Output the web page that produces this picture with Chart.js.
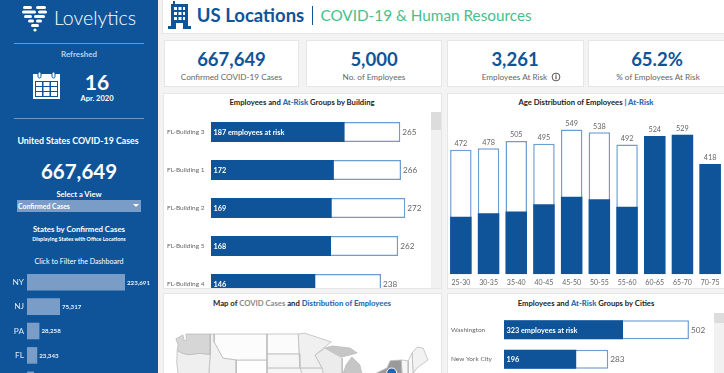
<!DOCTYPE html>
<html lang="en">
<head>
<meta charset="UTF-8" />
<title>US Locations - COVID-19 & Human Resources</title>
<script src="https://cdn.jsdelivr.net/npm/chart.js"></script>
<style>
  html, body { margin: 0; width: 724px; height: 373px; overflow: hidden; background: #f3f3f3; font-family: Lato, sans-serif; }
  body { filter: blur(0.3px); }
  .box { position: absolute; background: #fff; border: 1px solid #e6e6e6; box-sizing: border-box; }
  .t { position: absolute; white-space: nowrap; transform: translate(-50%, -50%); line-height: 1; }
  .clip { position: absolute; overflow: hidden; }
  .clip canvas, canvas { display: block; }
  #side { position: absolute; left: 0; top: 0; width: 158px; height: 373px; background: #0f5499; color: #fff; }
  #side hr { position: absolute; left: 14px; width: 130px; margin: 0; border: 0; height: 1px; background: #6b96c6; }
  .num { color: #0f5499; font-weight: 700; font-size: 18.5px; }
  .lab { color: #666; font-size: 8.2px; }
  .title { color: #222; font-weight: 700; font-size: 7.7px; }
  .title b { color: #2a6db0; }
  .title i { color: #8a8a8a; font-style: normal; }
</style>
</head>
<body>
<div id="side">
  <svg style="position:absolute;left:21px;top:4px" width="28" height="28" fill="#fff">
    <rect x="2" y="2" width="9" height="3" rx="1.5"/><rect x="15" y="2" width="10" height="3" rx="1.5"/>
    <rect x="1" y="6.5" width="14" height="3" rx="1.5"/><rect x="17" y="6.5" width="9" height="3" rx="1.5"/>
    <rect x="3" y="11" width="8" height="3" rx="1.5"/><rect x="13" y="11" width="11" height="3" rx="1.5"/>
    <rect x="7" y="15.5" width="6" height="3" rx="1.5"/><rect x="15" y="15.5" width="6" height="3" rx="1.5"/>
    <rect x="10" y="20" width="8" height="3" rx="1.5"/><circle cx="14" cy="26" r="1.6"/>
  </svg>
  <div class="t" style="left:95px;top:18px;font-size:19.5px;font-weight:300">Lovelytics</div>
  <hr style="top:43px">
  <div class="t" style="left:79px;top:54px;font-size:8px;color:#b9d1ee;font-weight:700">Refreshed</div>
  <svg style="position:absolute;left:33px;top:71px" width="27" height="28">
    <rect x="0" y="3" width="27" height="25" fill="#fff"/>
    <rect x="2" y="10" width="23" height="16" fill="#0f5499"/>
    <g fill="#fff"><rect x="3" y="11" width="6" height="4"/><rect x="10.5" y="11" width="6" height="4"/><rect x="18" y="11" width="6" height="4"/>
    <rect x="3" y="16" width="6" height="4"/><rect x="10.5" y="16" width="6" height="4"/><rect x="18" y="16" width="6" height="4"/>
    <rect x="3" y="21" width="6" height="4"/><rect x="10.5" y="21" width="6" height="4"/><rect x="18" y="21" width="6" height="4"/></g>
    <rect x="5" y="1" width="3" height="6" rx="1.5" fill="#fff" stroke="#0f5499"/><rect x="19" y="1" width="3" height="6" rx="1.5" fill="#fff" stroke="#0f5499"/>
  </svg>
  <div class="t" style="left:97px;top:81px;font-size:21px;font-weight:700">16</div>
  <div class="t" style="left:97px;top:98.5px;font-size:7.5px;font-weight:700">Apr. 2020</div>
  <hr style="top:118px">
  <div class="t" style="left:78px;top:141px;font-size:8.8px;font-weight:700">United States COVID-19 Cases</div>
  <div class="t" style="left:79px;top:171px;font-size:20.5px;font-weight:700">667,649</div>
  <div class="t" style="left:79px;top:195px;font-size:7.6px;font-weight:700">Select a View</div>
  <div style="position:absolute;left:17px;top:200px;width:124px;height:12px;background:#7a9dc8"></div>
  <div class="t" style="left:44px;top:206px;font-size:6.9px;font-weight:700">Confirmed Cases</div>
  <svg style="position:absolute;left:133px;top:204px" width="6" height="4"><path d="M0 0H6L3 3Z" fill="#fff"/></svg>
  <div class="t" style="left:79px;top:230px;font-size:7.8px;font-weight:700">States by Confirmed Cases</div>
  <div class="t" style="left:79px;top:240px;font-size:5.4px;font-weight:700">Displaying States with Office Locations</div>
  <div class="t" style="left:79px;top:262px;font-size:7.1px">Click to Filter the Dashboard</div>
</div>

<div class="box" style="left:162px;top:-1px;width:563px;height:35px"></div>
<svg style="position:absolute;left:168px;top:1px" width="23" height="28" fill="#0f5499">
  <rect x="5" y="0" width="2" height="3"/><rect x="3" y="3" width="17" height="22"/><rect x="0" y="25" width="23" height="3"/>
  <g fill="#fff"><rect x="6" y="6" width="3" height="3"/><rect x="10.5" y="6" width="3" height="3"/><rect x="15" y="6" width="2" height="3"/>
  <rect x="6" y="11" width="3" height="3"/><rect x="10.5" y="11" width="3" height="3"/><rect x="15" y="11" width="2" height="3"/>
  <rect x="6" y="16" width="3" height="3"/><rect x="10.5" y="16" width="3" height="3"/><rect x="15" y="16" width="2" height="3"/>
  <rect x="8" y="22" width="7" height="6"/></g>
</svg>
<div class="t" style="left:250.5px;top:15px;font-size:18.5px;font-weight:700;color:#0f5499">US Locations</div>
<div style="position:absolute;left:311.5px;top:6px;width:1.5px;height:19px;background:#0f5499"></div>
<div class="t" style="left:426px;top:16px;font-size:15.3px;color:#45c08f">COVID-19 &amp; Human Resources</div>

<div class="box" style="left:164px;top:40px;width:135px;height:47px"></div>
<div class="box" style="left:306px;top:40px;width:136px;height:47px"></div>
<div class="box" style="left:447px;top:40px;width:137px;height:47px"></div>
<div class="box" style="left:588px;top:40px;width:137px;height:47px"></div>
<div class="t num" style="left:231.5px;top:59px">667,649</div>
<div class="t lab" style="left:231.5px;top:77px">Confirmed COVID-19 Cases</div>
<div class="t num" style="left:374px;top:59px">5,000</div>
<div class="t lab" style="left:374px;top:77px">No. of Employees</div>
<div class="t num" style="left:515px;top:59px">3,261</div>
<div class="t lab" style="left:514.5px;top:77px">Employees At Risk</div>
<svg style="position:absolute;left:551px;top:72px" width="10" height="10"><circle cx="5" cy="5" r="3.9" fill="none" stroke="#555"/><rect x="4.4" y="4.2" width="1.2" height="3" fill="#555"/><rect x="4.4" y="2.6" width="1.2" height="1.1" fill="#555"/></svg>
<div class="t num" style="left:657px;top:59px">65.2%</div>
<div class="t lab" style="left:658px;top:77px">% of Employees At Risk</div>

<div class="box" style="left:163px;top:93px;width:279px;height:196px"></div>
<div class="box" style="left:447px;top:93px;width:278px;height:196px"></div>
<div class="box" style="left:163px;top:293px;width:279px;height:81px"></div>
<div class="box" style="left:447px;top:293px;width:278px;height:81px"></div>
<div class="t title" style="left:302px;top:103px">Employees and <b>At-Risk</b> Groups by Building</div>
<div class="t title" style="left:586px;top:103px">Age Distribution of Employees <b>| At-Risk</b></div>
<div class="t title" style="left:302px;top:304px">Map of <i>COVID Cases</i> and <b>Distribution of Employees</b></div>
<div class="t title" style="left:586px;top:304px">Employees and <b>At-Risk</b> Groups by Cities</div>

<div style="position:absolute;left:431px;top:112px;width:10px;height:176px;background:#f1f1f1"></div>
<div style="position:absolute;left:431px;top:112px;width:10px;height:18px;background:#dcdcdc"></div>
<div style="position:absolute;left:714px;top:313px;width:10px;height:60px;background:#f1f1f1"></div>
<div style="position:absolute;left:714px;top:313px;width:10px;height:10px;background:#dcdcdc"></div>

<div class="clip" style="left:0;top:270px;width:158px;height:103px"><canvas id="stateChart" width="158" height="122"></canvas></div>
<div class="clip" style="left:163px;top:113px;width:268px;height:175px"><canvas id="buildingChart" width="268" height="190"></canvas></div>
<div class="clip" style="left:447px;top:112px;width:277px;height:177px"><canvas id="ageChart" width="277" height="177"></canvas></div>
<div class="clip" style="left:447px;top:314.5px;width:267px;height:59px"><canvas id="cityChart" width="267" height="59"></canvas></div>
<div class="clip" style="left:165px;top:325px;width:275px;height:48px"><canvas id="mapChart" width="275" height="48"></canvas></div>

<script>
  const stateNames = ['NY', 'NJ', 'PA', 'FL', 'TX'];
  const stateCases = [223691, 75317, 28258, 23343, 16000];

  const buildings = ['FL-Building 3', 'FL-Building 1', 'FL-Building 2', 'FL-Building 5', 'FL-Building 4'];
  const buildingRisk = [187, 172, 169, 168, 146];
  const buildingTotal = [265, 266, 272, 262, 238];

  const ageGroups = ['25-30', '30-35', '35-40', '40-45', '45-50', '50-55', '55-60', '60-65', '65-70', '70-75'];
  const ageRisk = [218, 231, 238, 265, 294, 284, 256, 524, 529, 418];
  const ageTotal = [472, 478, 505, 495, 549, 538, 492, 524, 529, 418];

  const cities = ['Washington', 'New York City'];
  const cityRisk = [323, 196];
  const cityTotal = [502, 283];

  // state outlines as [lon, lat], only the part that shows in the crop
  const waShape = [[-124.8, 47.9], [-123.2, 48.8], [-122.9, 47.5], [-122.4, 47.5], [-122.5, 49], [-117, 49], [-117, 44.4], [-119.5, 44.6], [-122, 44.3], [-123.5, 44.7], [-124.5, 45.3], [-124.3, 46.5]];
  const orShape = [[-124.5, 45.3], [-123.5, 44.7], [-122, 44.3], [-119.5, 44.6], [-117, 44.4], [-117.3, 40], [-124.3, 40], [-124.6, 42.5]];
  const idShape = [[-117, 49], [-116.1, 49], [-116.1, 47.2], [-114.1, 43.5], [-111.1, 43.1], [-111.1, 40], [-117.3, 40], [-117, 44.4]];
  const mtShape = [[-116.1, 49], [-104.1, 49], [-104.1, 43.1], [-111.1, 43.1], [-114.1, 43.5], [-116.1, 47.2]];
  const wyShape = [[-111.1, 43.1], [-104.1, 43.1], [-104.1, 40], [-111.1, 40]];
  const ndShape = [[-104.1, 49], [-97, 49], [-96.8, 44.5], [-104.1, 44.5]];
  const sdShape = [[-104.1, 44.5], [-96.8, 44.5], [-96.6, 41.3], [-104.1, 41.3]];
  const neShape = [[-104.1, 41.3], [-96.6, 41.3], [-95.5, 38.5], [-104.1, 38.5]];
  const mnShape = [[-97, 49], [-95.5, 49.2], [-89.5, 47.2], [-93.2, 44.2], [-91.6, 41.3], [-96.6, 41.3], [-96.8, 44.5]];
  const iaShape = [[-96.6, 41.3], [-91.6, 41.3], [-90.9, 38.5], [-96, 38.5]];
  const wiShape = [[-93.2, 44.2], [-90.9, 45.8], [-87, 43.5], [-87, 40], [-91.4, 40], [-91.6, 41.3]];
  const miUpperShape = [[-90.9, 45.8], [-89.3, 46.3], [-85.2, 45.8], [-83.6, 44.7], [-87, 43.8]];
  const miLowerShape = [[-86.8, 40], [-86.1, 42], [-84.8, 43.8], [-83, 42], [-82.5, 40]];
  const nyShape = [[-79.5, 40], [-76.8, 41.3], [-76.1, 42.9], [-73.6, 43.1], [-73.4, 40]];
  const vtShape = [[-73.6, 43.1], [-72, 42.9], [-72, 40], [-73.4, 40]];
  const nhShape = [[-72, 42.9], [-71.1, 44.7], [-70.9, 40], [-72, 40]];
  const meShape = [[-71.1, 44.7], [-70, 46], [-68.6, 45.8], [-67.5, 43.1], [-70, 41.3], [-70.9, 40]];
  const mapShapes = [waShape, orShape, idShape, mtShape, wyShape, ndShape, sdShape, neShape, mnShape, iaShape, wiShape, miUpperShape, miLowerShape, nyShape, vtShape, nhShape, meShape];
  const mapShades = ['#d6d6d6', '#efefef', '#f1f1f1', '#fcfcfc', '#fefefe', '#fbfbfb', '#f5f5f5', '#f5f5f5', '#f0f0f0', '#f2f2f2', '#ececec', '#c6c6c6', '#c6c6c6', '#9a9a9a', '#f6f6f6', '#f8f8f8', '#f2f2f2'];
  const officeLon = [-75.75];
  const officeLat = [40.14];

  const blue = '#0f5499';
  const outline = '#6f9dd0';

  // writes the value labels next to / inside the bars, from the bar elements themselves
  const barLabels = {
    id: 'barLabels',
    afterDatasetsDraw(chart, args, opts) {
      const c = chart.ctx;
      c.save();
      c.textBaseline = 'middle';
      (opts.inside || []).forEach((txt, i) => {
        const bar = chart.getDatasetMeta(1).data[i];
        c.font = '700 7.3px Lato';
        c.fillStyle = '#fff';
        c.textAlign = 'left';
        c.fillText(txt, bar.base + 2.5, bar.y + 0.5);
      });
      (opts.outside || []).forEach((txt, i) => {
        const bar = chart.getDatasetMeta(0).data[i];
        c.font = opts.font;
        c.fillStyle = opts.color;
        if (opts.above) {
          c.textAlign = 'center';
          c.fillText(txt, bar.x, bar.y - 6);
        } else {
          c.textAlign = 'left';
          c.fillText(txt, bar.x + 2, bar.y + 0.5);
        }
      });
      c.restore();
    }
  };

  const noPlugins = { legend: { display: false }, tooltip: { enabled: false } };

  // y axes keep a fixed width and no top/bottom padding, so the bands fill the canvas
  function fixYAxis(width) {
    return s => {
      s.width = width;
      s.paddingTop = 0;
      s.paddingBottom = 0;
    };
  }

  function hBars(id, labels, risk, total, xMax, axisW, thick, insideText) {
    new Chart(document.getElementById(id), {
      type: 'bar',
      data: {
        labels: labels,
        datasets: [
          { data: total, backgroundColor: '#fff', borderColor: outline, borderWidth: 1.5, borderSkipped: false, grouped: false, order: 2, barPercentage: thick, categoryPercentage: 1 },
          { data: risk, backgroundColor: blue, borderWidth: 0, grouped: false, order: 1, barPercentage: thick, categoryPercentage: 1 }
        ]
      },
      options: {
        indexAxis: 'y',
        responsive: false,
        animation: false,
        layout: { autoPadding: false, padding: { left: 4 } },
        scales: {
          x: { display: false, min: 0, max: xMax },
          y: {
            grid: { display: false, drawTicks: false }, border: { display: false },
            ticks: { crossAlign: 'far', autoSkip: false, color: '#666', font: { size: 6.5, family: 'Lato' } },
            afterFit: fixYAxis(axisW - 4)
          }
        },
        plugins: { ...noPlugins, barLabels: { inside: insideText, outside: total, font: '8.2px Lato', color: '#666' } }
      },
      plugins: [barLabels]
    });
  }

  hBars('buildingChart', buildings, buildingRisk, buildingTotal, 308, 48, 0.526,
    buildingRisk.map((v, i) => i === 0 ? v + ' employees at risk' : String(v)));
  hBars('cityChart', cities, cityRisk, cityTotal, 570, 57, 0.64,
    cityRisk.map((v, i) => i === 0 ? v + ' employees at risk' : String(v)));

  new Chart(document.getElementById('ageChart'), {
    type: 'bar',
    data: {
      labels: ageGroups,
      datasets: [
        { data: ageTotal, backgroundColor: '#fff', borderColor: outline, borderWidth: 1.5, borderSkipped: false, grouped: false, order: 2, barPercentage: 0.775, categoryPercentage: 1 },
        { data: ageRisk, backgroundColor: blue, borderWidth: 0, grouped: false, order: 1, barPercentage: 0.775, categoryPercentage: 1 }
      ]
    },
    options: {
      responsive: false,
      animation: false,
      layout: { autoPadding: false },
      scales: {
        y: { display: false, min: 0, max: 615 },
        x: {
          grid: { display: false, drawTicks: false }, border: { display: false },
          ticks: { autoSkip: false, maxRotation: 0, padding: 4, color: '#666', font: { size: 7, family: 'Lato' } },
          afterFit: s => { s.height = 14.7; }
        }
      },
      plugins: { ...noPlugins, barLabels: { outside: ageTotal, above: true, font: '7.3px Lato', color: '#666' } }
    },
    plugins: [barLabels]
  });

  new Chart(document.getElementById('stateChart'), {
    type: 'bar',
    data: {
      labels: stateNames,
      datasets: [{ data: stateCases, backgroundColor: '#7a9dc8', borderWidth: 0, barPercentage: 0.68, categoryPercentage: 1 }]
    },
    options: {
      indexAxis: 'y',
      responsive: false,
      animation: false,
      layout: { autoPadding: false },
      scales: {
        x: { display: false, min: 0, max: 299000 },
        y: {
          grid: { display: false, drawTicks: false }, border: { display: false },
          ticks: { padding: 3, autoSkip: false, color: '#dfe9f5', font: { size: 8.3, family: 'Lato' } },
          afterFit: fixYAxis(27)
        }
      },
      plugins: { ...noPlugins, barLabels: { outside: stateCases.map(v => v.toLocaleString('en-US')), font: '700 6.2px Lato', color: '#e6eef8' } }
    },
    plugins: [barLabels]
  });

  const mapSets = mapShapes.map((shape, i) => ({
    data: shape.concat([shape[0]]).map(p => ({ x: p[0], y: p[1] })),
    showLine: true, fill: 'shape', tension: 0, pointRadius: 0,
    backgroundColor: mapShades[i], borderColor: '#bcbcbc', borderWidth: 0.8
  }));
  // lowest order is drawn last, the office dot has to sit above the states
  mapSets.push({
    data: officeLon.map((lon, i) => ({ x: lon, y: officeLat[i] })),
    order: -1, pointRadius: 5, pointBackgroundColor: '#1f66ab', pointBorderColor: '#fff', pointBorderWidth: 1, showLine: false, clip: false
  });

  new Chart(document.getElementById('mapChart'), {
    type: 'scatter',
    data: { datasets: mapSets },
    options: {
      responsive: false,
      animation: false,
      layout: { autoPadding: false },
      scales: {
        x: { display: false, min: -127.27, max: -64.77 },
        y: { display: false, min: 40.14, max: 51.05 }
      },
      plugins: noPlugins
    }
  });
</script>
</body>
</html>
